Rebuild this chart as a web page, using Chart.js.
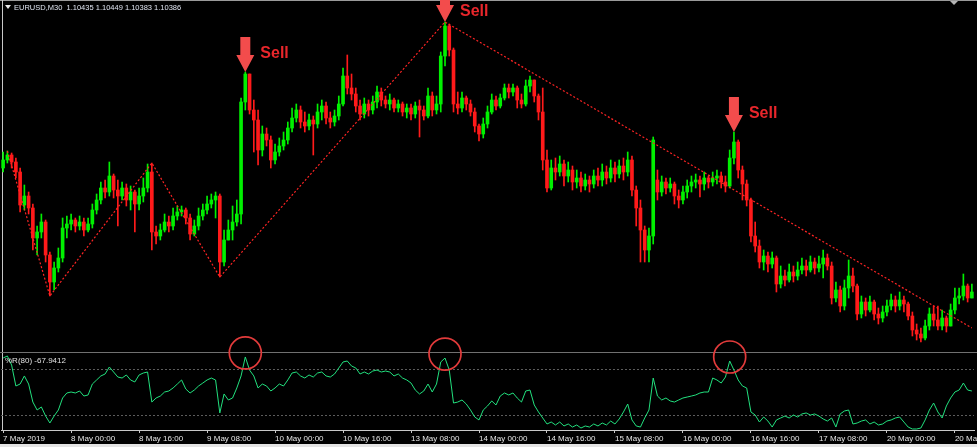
<!DOCTYPE html>
<html>
<head>
<meta charset="utf-8">
<title>EURUSD M30</title>
<script src="https://cdn.jsdelivr.net/npm/chart.js@4.4.1/dist/chart.umd.min.js"></script>
<style>
    html, body { margin: 0; padding: 0; background: #000; }
    #wrap { position: relative; width: 977px; height: 447px; background: #000; overflow: hidden; }
    #wrap canvas { position: absolute; left: 0; }
    #priceCanvas { top: 0; }
    #wprCanvas { top: 320px; }
    .rule { position: absolute; }
</style>
</head>
<body>
<div id="wrap">
    <div class="rule" style="left:0;top:0;width:977px;height:1px;background:#9a9a9a"></div>
    <div class="rule" style="left:2px;top:0;width:1px;height:431px;background:#c8c8c8"></div>
    <div class="rule" style="left:0;top:352px;width:977px;height:1px;background:#707070"></div>
    <div class="rule" style="left:0;top:444px;width:977px;height:3px;background:#e4e4e4"></div>
    <canvas id="priceCanvas" width="977" height="352"></canvas>
    <canvas id="wprCanvas" width="977" height="127"></canvas>
</div>
<script>
// candles (M30)
const opens = [
    1.1162,1.1170,1.1175,1.1168,1.1158,1.1125,1.1134,1.1122,1.1092,1.1098,
    1.1108,1.1075,1.1048,1.1062,1.1072,1.1102,1.1106,1.1110,1.1104,1.1108,
    1.1100,1.1106,1.1120,1.1130,1.1142,1.1138,1.1154,1.1140,1.1134,1.1142,
    1.1130,1.1138,1.1126,1.1134,1.1142,1.1158,1.1098,1.1094,1.1100,1.1108,
    1.1104,1.1114,1.1118,1.1120,1.1112,1.1096,1.1104,1.1114,1.1120,1.1126,
    1.1130,1.1134,1.1068,1.1090,1.1100,1.1108,1.1116,1.1228,1.1256,1.1220,
    1.1210,1.1180,1.1196,1.1190,1.1170,1.1178,1.1184,1.1190,1.1202,1.1212,
    1.1220,1.1208,1.1204,1.1210,1.1206,1.1218,1.1224,1.1212,1.1208,1.1214,
    1.1226,1.1254,1.1242,1.1236,1.1224,1.1216,1.1226,1.1220,1.1228,1.1238,
    1.1230,1.1226,1.1230,1.1222,1.1226,1.1218,1.1222,1.1216,1.1224,1.1220,
    1.1214,1.1234,1.1220,1.1226,1.1274,1.1304,1.1280,1.1226,1.1222,1.1232,
    1.1226,1.1218,1.1204,1.1196,1.1206,1.1218,1.1230,1.1224,1.1232,1.1242,
    1.1238,1.1242,1.1230,1.1226,1.1244,1.1250,1.1234,1.1218,1.1170,1.1142,
    1.1162,1.1158,1.1166,1.1154,1.1160,1.1148,1.1152,1.1144,1.1150,1.1146,
    1.1154,1.1150,1.1158,1.1152,1.1162,1.1156,1.1164,1.1158,1.1170,1.1140,
    1.1122,1.1100,1.1080,1.1094,1.1150,1.1138,1.1148,1.1142,1.1146,1.1134,
    1.1130,1.1138,1.1144,1.1148,1.1150,1.1146,1.1152,1.1148,1.1152,1.1154,
    1.1148,1.1144,1.1172,1.1188,1.1160,1.1146,1.1130,1.1094,1.1084,1.1068,
    1.1074,1.1066,1.1072,1.1046,1.1054,1.1050,1.1058,1.1054,1.1060,1.1064,
    1.1060,1.1068,1.1062,1.1066,1.1072,1.1064,1.1032,1.1040,1.1024,1.1042,
    1.1054,1.1044,1.1016,1.1028,1.1020,1.1028,1.1016,1.1012,1.1018,1.1024,
    1.1030,1.1024,1.1030,1.1026,1.1014,1.1000,1.0996,1.0992,1.1004,1.1016,
    1.1010,1.1004,1.1012,1.1004,1.1020,1.1032,1.1034,1.1044,1.1032
];
const highs = [
    1.1178,1.1179,1.1177,1.1172,1.1162,1.1145,1.1138,1.1126,1.1104,1.1116,
    1.1110,1.1078,1.1068,1.1082,1.1112,1.1114,1.1116,1.1112,1.1114,1.1112,
    1.1112,1.1126,1.1136,1.1148,1.1150,1.1168,1.1156,1.1150,1.1148,1.1146,
    1.1144,1.1140,1.1142,1.1152,1.1166,1.1167,1.1104,1.1106,1.1116,1.1114,
    1.1122,1.1124,1.1124,1.1122,1.1116,1.1110,1.1122,1.1126,1.1134,1.1136,
    1.1138,1.1136,1.1100,1.1110,1.1124,1.1130,1.1232,1.1258,1.1256,1.1230,
    1.1220,1.1204,1.1202,1.1194,1.1186,1.1192,1.1198,1.1208,1.1222,1.1226,
    1.1224,1.1218,1.1216,1.1214,1.1226,1.1230,1.1228,1.1218,1.1220,1.1234,
    1.1262,1.1275,1.1256,1.1242,1.1230,1.1232,1.1230,1.1234,1.1244,1.1242,
    1.1234,1.1236,1.1232,1.1230,1.1228,1.1226,1.1226,1.1228,1.1230,1.1224,
    1.1242,1.1238,1.1234,1.1278,1.1308,1.1306,1.1282,1.1238,1.1238,1.1234,
    1.1230,1.1222,1.1206,1.1212,1.1224,1.1236,1.1234,1.1236,1.1246,1.1246,
    1.1246,1.1244,1.1236,1.1250,1.1254,1.1250,1.1236,1.1242,1.1180,1.1170,
    1.1172,1.1174,1.1170,1.1168,1.1164,1.1160,1.1158,1.1156,1.1154,1.1160,
    1.1162,1.1166,1.1164,1.1170,1.1168,1.1170,1.1172,1.1178,1.1174,1.1144,
    1.1130,1.1104,1.1102,1.1193,1.1160,1.1154,1.1152,1.1152,1.1148,1.1140,
    1.1144,1.1150,1.1154,1.1156,1.1154,1.1158,1.1154,1.1158,1.1160,1.1158,
    1.1154,1.1180,1.1198,1.1190,1.1164,1.1150,1.1132,1.1108,1.1090,1.1080,
    1.1078,1.1078,1.1074,1.1064,1.1060,1.1066,1.1064,1.1068,1.1072,1.1070,
    1.1074,1.1072,1.1074,1.1080,1.1076,1.1068,1.1048,1.1044,1.1050,1.1070,
    1.1062,1.1046,1.1034,1.1032,1.1034,1.1030,1.1022,1.1024,1.1030,1.1036,
    1.1034,1.1038,1.1034,1.1028,1.1018,1.1006,1.1002,1.1010,1.1022,1.1024,
    1.1024,1.1020,1.1014,1.1026,1.1042,1.1042,1.1056,1.1046,1.1046
];
const lows = [
    1.1158,1.1167,1.1162,1.1152,1.1118,1.1120,1.1116,1.1080,1.1075,1.1092,
    1.1068,1.1034,1.1040,1.1058,1.1068,1.1092,1.1100,1.1098,1.1100,1.1094,
    1.1098,1.1102,1.1116,1.1126,1.1132,1.1134,1.1132,1.1104,1.1130,1.1124,
    1.1120,1.1098,1.1120,1.1128,1.1138,1.1080,1.1086,1.1090,1.1098,1.1098,
    1.1100,1.1110,1.1114,1.1106,1.1090,1.1094,1.1100,1.1110,1.1116,1.1122,
    1.1112,1.1053,1.1064,1.1090,1.1090,1.1104,1.1106,1.1220,1.1216,1.1178,
    1.1165,1.1174,1.1184,1.1162,1.1166,1.1174,1.1180,1.1186,1.1198,1.1208,
    1.1202,1.1198,1.1200,1.1175,1.1202,1.1210,1.1206,1.1202,1.1204,1.1210,
    1.1224,1.1236,1.1230,1.1218,1.1210,1.1212,1.1214,1.1216,1.1222,1.1224,
    1.1222,1.1220,1.1218,1.1218,1.1214,1.1212,1.1210,1.1212,1.1193,1.1210,
    1.1212,1.1214,1.1216,1.1218,1.1264,1.1274,1.1218,1.1216,1.1218,1.1220,
    1.1214,1.1198,1.1189,1.1192,1.1202,1.1216,1.1220,1.1222,1.1230,1.1232,
    1.1234,1.1222,1.1222,1.1224,1.1238,1.1228,1.1210,1.1160,1.1138,1.1140,
    1.1150,1.1154,1.1144,1.1148,1.1140,1.1142,1.1138,1.1140,1.1138,1.1142,
    1.1144,1.1144,1.1146,1.1148,1.1148,1.1152,1.1150,1.1154,1.1134,1.1104,
    1.1068,1.1068,1.1068,1.1086,1.1130,1.1134,1.1136,1.1138,1.1126,1.1122,
    1.1126,1.1132,1.1138,1.1142,1.1133,1.1140,1.1142,1.1144,1.1146,1.1142,
    1.1138,1.1142,1.1166,1.1152,1.1130,1.1124,1.1088,1.1078,1.1062,1.1060,
    1.1058,1.1062,1.1038,1.1042,1.1044,1.1048,1.1048,1.1050,1.1056,1.1054,
    1.1058,1.1056,1.1058,1.1052,1.1060,1.1026,1.1028,1.1018,1.1020,1.1032,
    1.1038,1.1010,1.1012,1.1014,1.1018,1.1010,1.1006,1.1008,1.1014,1.1020,
    1.1018,1.1020,1.1018,1.1010,1.0994,1.0990,1.0988,1.0990,1.1000,1.1004,
    1.1000,1.1000,1.0998,1.1004,1.1016,1.1026,1.1030,1.1028,1.1032
];
const closes = [
    1.1170,1.1175,1.1168,1.1158,1.1125,1.1134,1.1122,1.1092,1.1098,1.1108,
    1.1075,1.1048,1.1062,1.1072,1.1102,1.1106,1.1110,1.1104,1.1108,1.1100,
    1.1106,1.1120,1.1130,1.1142,1.1138,1.1154,1.1140,1.1134,1.1142,1.1130,
    1.1138,1.1126,1.1134,1.1142,1.1158,1.1098,1.1094,1.1100,1.1108,1.1104,
    1.1114,1.1118,1.1120,1.1112,1.1096,1.1104,1.1114,1.1120,1.1126,1.1130,
    1.1134,1.1068,1.1090,1.1100,1.1108,1.1116,1.1228,1.1256,1.1220,1.1210,
    1.1180,1.1196,1.1190,1.1170,1.1178,1.1184,1.1190,1.1202,1.1212,1.1220,
    1.1208,1.1204,1.1210,1.1206,1.1218,1.1224,1.1212,1.1208,1.1214,1.1226,
    1.1254,1.1242,1.1236,1.1224,1.1216,1.1226,1.1220,1.1228,1.1238,1.1230,
    1.1226,1.1230,1.1222,1.1226,1.1218,1.1222,1.1216,1.1224,1.1220,1.1214,
    1.1234,1.1220,1.1226,1.1274,1.1304,1.1280,1.1226,1.1222,1.1232,1.1226,
    1.1218,1.1204,1.1196,1.1206,1.1218,1.1230,1.1224,1.1232,1.1242,1.1238,
    1.1242,1.1230,1.1226,1.1244,1.1250,1.1234,1.1218,1.1170,1.1142,1.1162,
    1.1158,1.1166,1.1154,1.1160,1.1148,1.1152,1.1144,1.1150,1.1146,1.1154,
    1.1150,1.1158,1.1152,1.1162,1.1156,1.1164,1.1158,1.1170,1.1140,1.1122,
    1.1100,1.1080,1.1094,1.1190,1.1138,1.1148,1.1142,1.1146,1.1134,1.1130,
    1.1138,1.1144,1.1148,1.1150,1.1146,1.1152,1.1148,1.1152,1.1154,1.1148,
    1.1144,1.1172,1.1188,1.1160,1.1146,1.1130,1.1094,1.1084,1.1068,1.1074,
    1.1066,1.1072,1.1046,1.1054,1.1050,1.1058,1.1054,1.1060,1.1064,1.1060,
    1.1068,1.1062,1.1066,1.1072,1.1064,1.1032,1.1040,1.1024,1.1042,1.1054,
    1.1044,1.1016,1.1028,1.1020,1.1028,1.1016,1.1012,1.1018,1.1024,1.1030,
    1.1024,1.1030,1.1026,1.1014,1.1000,1.0996,1.0992,1.1004,1.1016,1.1010,
    1.1004,1.1012,1.1004,1.1020,1.1032,1.1034,1.1044,1.1032,1.1038
];

// Williams %R(80), one value per candle
const wpr = [
    -5.3,-2.6,-14.5,-42.1,-39.5,-28.9,-39.5,-63.2,-73.7,-69.7,
    -81.6,-90.8,-81.6,-73.7,-57.9,-51.3,-50.0,-51.3,-48.7,-55.3,
    -53.9,-39.5,-34.2,-28.9,-26.3,-17.1,-23.7,-30.3,-31.6,-27.6,
    -34.2,-36.8,-27.6,-25.0,-23.7,-63.2,-57.9,-55.3,-50.0,-48.7,
    -44.7,-39.5,-34.2,-46.1,-51.3,-47.4,-42.1,-38.2,-34.2,-31.6,
    -34.2,-77.6,-52.6,-60.5,-57.9,-44.7,-28.9,-3.9,-21.1,-28.9,
    -44.7,-39.5,-42.1,-48.7,-44.7,-39.5,-42.1,-34.2,-25.0,-23.7,
    -28.9,-31.6,-27.6,-30.3,-25.0,-23.7,-28.9,-30.3,-26.3,-18.4,
    -10.5,-9.2,-15.8,-18.4,-26.3,-23.7,-26.3,-22.4,-21.1,-23.7,
    -22.4,-23.7,-28.9,-26.3,-31.6,-34.2,-38.2,-47.4,-52.6,-48.7,
    -39.5,-50.0,-39.5,-10.5,-5.3,-21.1,-64.5,-63.2,-60.5,-65.8,
    -73.7,-82.9,-86.8,-73.7,-68.4,-61.8,-67.1,-55.3,-51.3,-53.9,
    -51.3,-57.9,-63.2,-48.7,-47.4,-67.1,-76.3,-84.2,-92.1,-89.5,
    -93.4,-89.5,-94.7,-92.1,-96.1,-93.4,-97.4,-94.7,-96.1,-92.1,
    -94.7,-90.8,-93.4,-88.2,-92.1,-85.5,-76.3,-65.8,-86.8,-94.7,
    -96.1,-84.2,-73.7,-31.6,-55.3,-60.5,-57.9,-61.8,-63.2,-60.5,
    -57.9,-56.6,-55.3,-53.9,-51.3,-50.0,-50.0,-31.6,-34.2,-38.2,
    -30.3,-9.2,-21.1,-34.2,-42.1,-44.7,-76.3,-80.3,-89.5,-82.9,
    -88.2,-96.1,-86.8,-84.2,-81.6,-84.2,-80.3,-82.9,-78.9,-77.6,
    -80.3,-78.9,-81.6,-85.5,-88.2,-84.2,-96.1,-78.9,-75.0,-73.7,
    -92.1,-90.8,-88.2,-86.8,-92.1,-89.5,-93.4,-92.1,-88.2,-86.8,
    -84.2,-82.9,-89.5,-96.1,-98.7,-98.7,-97.4,-86.8,-73.7,-64.5,
    -76.3,-84.2,-68.4,-57.9,-50.0,-47.4,-38.2,-47.4,-48.7
];
const wprLevels = [-20, -80];

// time axis: one label every 16 candles
const timeLabels = ['7 May 2019', '8 May 00:00', '8 May 16:00', '9 May 08:00', '10 May 00:00',
    '10 May 16:00', '13 May 08:00', '14 May 00:00', '14 May 16:00', '15 May 08:00',
    '16 May 00:00', '16 May 16:00', '17 May 08:00', '20 May 00:00', '20 May 16:00'];
const labelStep = 16;

// zigzag / trend line vertices (candle index, price)
const zigIdx = [1, 11, 35, 51, 104, 228];
const zigPrice = [1.1179, 1.1034, 1.1167, 1.1053, 1.1308, 1.1002];

// sell signals and the %R peaks circled under them
const sellIdx = [57, 104, 172];
const circleIdx = [57, 104, 171];

const priceMin = 1.0978;
const priceMax = 1.1320;

const header = 'EURUSD,M30  1.10435 1.10449 1.10383 1.10386';
const wprTitle = '%R(80) -67.9412';

const BULL = '#00f000';
const BEAR = '#ff1a1a';
const SMALL_FONT = '"Liberation Sans", Arial, sans-serif';

const labels = closes.map((_, i) => i);
const candleColors = closes.map((c, i) => (c >= opens[i] ? BULL : BEAR));
const bodies = opens.map((o, i) => [o, closes[i]]);
const wicks = lows.map((l, i) => [l, highs[i]]);
const zigzag = labels.map(i => {
    const k = zigIdx.indexOf(i);
    return k === -1 ? null : zigPrice[k];
});

// --- price panel extras: header text and sell arrows ---
const priceDecor = {
    id: 'priceDecor',
    afterDatasetsDraw(chart) {
        const { ctx, scales: { x, y } } = chart;
        ctx.save();
        sellIdx.forEach(i => {
            const px = x.getPixelForValue(i);
            const tip = y.getPixelForValue(highs[i]);
            ctx.fillStyle = '#f34c4c';
            ctx.beginPath();
            ctx.moveTo(px - 5, tip - 35);
            ctx.lineTo(px + 5, tip - 35);
            ctx.lineTo(px + 5, tip - 17);
            ctx.lineTo(px + 9, tip - 17);
            ctx.lineTo(px, tip);
            ctx.lineTo(px - 9, tip - 17);
            ctx.lineTo(px - 5, tip - 17);
            ctx.closePath();
            ctx.fill();

            ctx.fillStyle = '#e8262b';
            ctx.font = 'bold 16px ' + SMALL_FONT;
            ctx.textBaseline = 'middle';
            ctx.fillText('Sell', px + 15, Math.max(tip - 18, 12));
        });
        ctx.restore();
    },
    afterDraw(chart) {
        const ctx = chart.ctx;
        ctx.save();
        // small menu triangle + symbol line
        ctx.fillStyle = '#e8e8e8';
        ctx.beginPath();
        ctx.moveTo(5, 5); ctx.lineTo(11, 5); ctx.lineTo(8, 9); ctx.closePath();
        ctx.fill();
        ctx.fillStyle = '#dfe4f0';
        ctx.font = '7.5px ' + SMALL_FONT;
        ctx.textBaseline = 'middle';
        ctx.fillText(header, 14, 8);
        // chart shift marker at top right
        ctx.fillStyle = '#b4b4b4';
        ctx.beginPath();
        ctx.moveTo(950, 1); ctx.lineTo(958, 1); ctx.lineTo(954, 5); ctx.closePath();
        ctx.fill();
        ctx.restore();
    }
};

new Chart(document.getElementById('priceCanvas'), {
    type: 'bar',
    data: {
        labels: labels,
        datasets: [
            {
                type: 'line',
                data: zigzag,
                borderColor: '#ff2424',
                borderWidth: 1.2,
                borderDash: [2, 2],
                pointRadius: 0,
                spanGaps: true,
                order: 0
            },
            {
                data: bodies,
                backgroundColor: candleColors,
                barThickness: 3,
                minBarLength: 1,
                grouped: false,
                order: 1
            },
            {
                data: wicks,
                backgroundColor: candleColors,
                barThickness: 1,
                grouped: false,
                order: 2
            }
        ]
    },
    options: {
        responsive: false,
        animation: false,
        devicePixelRatio: 1,
        layout: { padding: { left: 1, right: 3, top: 10, bottom: 0 } },
        plugins: { legend: { display: false }, tooltip: { enabled: false } },
        scales: {
            x: { display: false, offset: true },
            y: { display: false, min: priceMin, max: priceMax }
        }
    },
    plugins: [priceDecor]
});

// --- %R panel extras: level lines, title, circles ---
const wprDecor = {
    id: 'wprDecor',
    beforeDatasetsDraw(chart) {
        const { ctx, chartArea, scales: { y } } = chart;
        ctx.save();
        ctx.strokeStyle = '#5c5c5c';
        ctx.lineWidth = 1;
        ctx.setLineDash([2, 2]);
        wprLevels.forEach(v => {
            const py = Math.round(y.getPixelForValue(v)) + 0.5;
            ctx.beginPath();
            ctx.moveTo(chartArea.left, py);
            ctx.lineTo(chartArea.right, py);
            ctx.stroke();
        });
        ctx.restore();
    },
    afterDatasetsDraw(chart) {
        const { ctx, chartArea, scales: { x, y } } = chart;
        ctx.save();
        ctx.fillStyle = '#e0e0e0';
        ctx.font = '8px ' + SMALL_FONT;
        ctx.textBaseline = 'middle';
        ctx.fillText(wprTitle, 5, chartArea.top + 7);

        ctx.strokeStyle = '#e23b3b';
        ctx.lineWidth = 1.7;
        circleIdx.forEach(i => {
            ctx.beginPath();
            ctx.arc(x.getPixelForValue(i), y.getPixelForValue(wpr[i]) - 4, 16, 0, Math.PI * 2);
            ctx.stroke();
        });
        ctx.restore();
    }
};

new Chart(document.getElementById('wprCanvas'), {
    type: 'line',
    data: {
        labels: labels,
        datasets: [{
            data: wpr,
            borderColor: '#22e07e',
            borderWidth: 1,
            pointRadius: 0,
            tension: 0
        }]
    },
    options: {
        responsive: false,
        animation: false,
        devicePixelRatio: 1,
        layout: { padding: { left: 1, right: 3, top: 34, bottom: 0 } },
        plugins: { legend: { display: false }, tooltip: { enabled: false } },
        scales: {
            x: {
                offset: true,
                grid: { display: true, drawOnChartArea: false, drawTicks: true, tickLength: 3, color: '#c8c8c8', offset: false },
                border: { display: true, color: '#c8c8c8' },
                ticks: {
                    autoSkip: false,
                    maxRotation: 0,
                    align: 'start',
                    padding: 1,
                    color: '#e6e6e6',
                    font: { family: SMALL_FONT, size: 8 },
                    callback: (value, index) => (index % labelStep === 0 ? timeLabels[index / labelStep] : null)
                },
                afterFit: scale => {
                    scale.height = 17;
                    scale.paddingLeft = 0;
                    scale.paddingRight = 0;
                }
            },
            y: { display: false, min: -100, max: 0 }
        }
    },
    plugins: [wprDecor]
});
</script>
</body>
</html>
